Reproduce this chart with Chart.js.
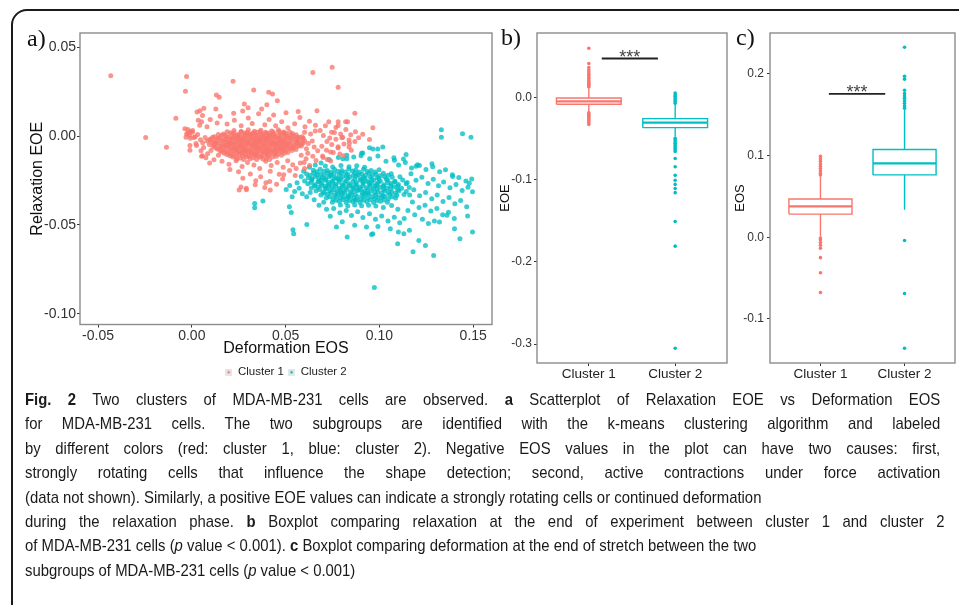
<!DOCTYPE html>
<html>
<head>
<meta charset="utf-8">
<script src="https://cdn.jsdelivr.net/npm/chart.js@4.4.1/dist/chart.umd.min.js"></script>
<style>
  body { margin:0; background:#fff; width:959px; height:605px; overflow:hidden; position:relative; font-family:"Liberation Sans", Arial, sans-serif; }
  .frame { position:absolute; left:11px; top:9px; width:1000px; height:700px; border:2px solid #1a1a1a; border-radius:16px; }
  canvas { position:absolute; top:0; }
  .lab { position:absolute; font-family:"Liberation Serif", "Times New Roman", serif; font-size:24px; line-height:28px; color:#111; }
  .cap { position:absolute; left:25px; top:388px; font-family:"Liberation Sans", Arial, sans-serif; font-size:17px; line-height:24.4px; color:#1a1a1a; transform:scaleX(0.875); transform-origin:0 0; }
  .cap div { white-space:nowrap; }
  .cap .j { width:1046px; text-align:justify; text-align-last:justify; }
</style>
</head>
<body>
<div class="frame"></div>
<canvas id="chartA" width="500" height="390" style="left:0"></canvas>
<canvas id="chartB" width="235" height="392" style="left:497px"></canvas>
<canvas id="chartC" width="227" height="392" style="left:732px"></canvas>
<div class="lab" style="left:27px;top:24px">a)</div>
<div class="lab" style="left:501px;top:23px">b)</div>
<div class="lab" style="left:736px;top:23px">c)</div>
<div class="cap">
<div class="j"><b>Fig. 2</b> Two clusters of MDA-MB-231 cells are observed. <b>a</b> Scatterplot of Relaxation EOE vs Deformation EOS</div>
<div class="j">for MDA-MB-231 cells. The two subgroups are identified with the k-means clustering algorithm and labeled</div>
<div class="j">by different colors (red: cluster 1, blue: cluster 2). Negative EOS values in the plot can have two causes: first,</div>
<div class="j">strongly rotating cells that influence the shape detection; second, active contractions under force activation</div>
<div>(data not shown). Similarly, a positive EOE values can indicate a strongly rotating cells or continued deformation</div>
<div class="j" style="width:1051px">during the relaxation phase. <b>b</b> Boxplot comparing relaxation at the end of experiment between cluster 1 and cluster 2</div>
<div>of MDA-MB-231 cells (<i>p</i> value &lt; 0.001). <b>c</b> Boxplot comparing deformation at the end of stretch between the two</div>
<div>subgroups of MDA-MB-231 cells (<i>p</i> value &lt; 0.001)</div>
</div>
<script>
// ---- data ----
var groups = ["Cluster 1", "Cluster 2"];
var colors = ["#F8766D", "#00BFC4"];

// panel a : [Deformation EOS, Relaxation EOE]
var cluster1 = [
 [.0225,.0031],[.0262,.0024],[.0301,.0036],[.0334,.0027],[.0368,.0033],[.0392,.0022],[.0425,.0029],[.0461,.0035],[.0488,.0023],
 [.0168,.0012],[.0205,.0019],[.0243,.0008],[.0281,.0017],[.0312,.0011],[.0349,.0021],[.0377,.0009],[.0409,.0016],[.0441,.0013],[.0473,.0018],[.0502,.0007],[.0536,.0014],
 [.0121,-.0004],[.0158,.0003],[.0197,-.0007],[.0228,.0001],[.0259,-.0003],[.0291,.0005],[.0322,-.0006],[.0351,.0002],[.0383,-.0002],[.0415,.0004],[.0447,-.0005],[.0478,.0001],[.0509,-.0003],[.0541,.0003],[.0572,-.0006],
 [.0101,-.0017],[.0139,-.0012],[.0176,-.0019],[.0213,-.0014],[.0245,-.0011],[.0274,-.0018],[.0306,-.0013],[.0338,-.0016],[.0367,-.0021],[.0396,-.0012],[.0428,-.0017],[.0459,-.0014],[.0492,-.0019],[.0523,-.0011],[.0558,-.0016],[.0591,-.0013],
 [.0082,-.0028],[.0119,-.0033],[.0155,-.0027],[.0189,-.0031],[.0221,-.0035],[.0252,-.0029],[.0284,-.0032],[.0316,-.0026],[.0345,-.0034],[.0374,-.0028],[.0405,-.0031],[.0436,-.0036],[.0468,-.0027],[.0499,-.0032],[.0531,-.0029],[.0566,-.0034],[.0602,-.0027],
 [.0093,-.0047],[.0131,-.0042],[.0166,-.0048],[.0199,-.0044],[.0232,-.0041],[.0263,-.0049],[.0295,-.0043],[.0327,-.0046],[.0356,-.0041],[.0388,-.0048],[.0419,-.0044],[.0451,-.0042],[.0482,-.0047],[.0514,-.0043],[.0547,-.0049],[.0585,-.0044],
 [.0112,-.0058],[.0148,-.0063],[.0183,-.0057],[.0216,-.0062],[.0247,-.0059],[.0279,-.0064],[.0309,-.0056],[.0341,-.0061],[.0372,-.0058],[.0401,-.0063],[.0432,-.0057],[.0463,-.0062],[.0496,-.0059],[.0529,-.0064],[.0563,-.0058],
 [.0136,-.0073],[.0171,-.0078],[.0206,-.0072],[.0238,-.0077],[.0269,-.0074],[.0301,-.0079],[.0333,-.0072],[.0364,-.0076],[.0395,-.0073],[.0426,-.0078],[.0457,-.0074],[.0489,-.0077],[.0521,-.0071],[.0555,-.0076],
 [.0158,-.0088],[.0194,-.0093],[.0228,-.0087],[.0259,-.0092],[.0291,-.0089],[.0323,-.0094],[.0354,-.0087],[.0386,-.0091],[.0418,-.0088],[.0449,-.0093],[.0481,-.0089],[.0512,-.0092],
 [.0187,-.0103],[.0221,-.0108],[.0253,-.0102],[.0286,-.0107],[.0318,-.0104],[.0349,-.0109],[.0381,-.0103],[.0412,-.0106],[.0445,-.0102],[.0478,-.0108],
 [.0219,-.0118],[.0258,-.0123],[.0293,-.0117],[.0327,-.0122],[.0361,-.0119],[.0396,-.0124],[.0431,-.0118],
 [.0188,.0024],[.0224,.0019],[.0263,.0026],[.0296,.0021],[.0331,.0018],[.0364,.0025],[.0398,.0017],[.0433,.0023],[.0465,.0026],[.0497,.0019],[.0521,.0024],
 [.0141,.0009],[.0178,.0004],[.0214,.0011],[.0247,.0006],[.0276,.0003],[.0307,.0009],[.0339,.0005],[.0368,.0011],[.0401,.0004],[.0432,.0008],[.0462,.0003],[.0493,.0010],[.0526,.0005],[.0556,.0008],
 [.0111,-.0006],[.0148,-.0011],[.0186,-.0004],[.0218,-.0009],[.0251,-.0006],[.0283,-.0010],[.0314,-.0005],[.0344,-.0009],[.0376,-.0007],[.0407,-.0011],[.0438,-.0006],[.0469,-.0009],[.0501,-.0005],[.0532,-.0010],[.0563,-.0007],[.0588,-.0004],
 [.0094,-.0021],[.0129,-.0025],[.0166,-.0020],[.0201,-.0024],[.0234,-.0021],[.0262,-.0026],[.0296,-.0022],[.0328,-.0025],[.0357,-.0020],[.0389,-.0024],[.0417,-.0021],[.0448,-.0026],[.0481,-.0022],[.0512,-.0024],[.0546,-.0021],[.0579,-.0025],
 [.0106,-.0036],[.0143,-.0040],[.0177,-.0035],[.0211,-.0039],[.0241,-.0036],[.0273,-.0041],[.0306,-.0037],[.0336,-.0039],[.0366,-.0035],[.0396,-.0040],[.0428,-.0037],[.0459,-.0039],[.0491,-.0036],[.0522,-.0040],[.0557,-.0037],[.0594,-.0039],
 [.0121,-.0051],[.0157,-.0055],[.0192,-.0052],[.0224,-.0054],[.0256,-.0051],[.0287,-.0056],[.0318,-.0052],[.0349,-.0054],[.0381,-.0050],[.0411,-.0055],[.0441,-.0052],[.0473,-.0055],[.0504,-.0051],[.0538,-.0054],[.0572,-.0052],
 [.0126,-.0066],[.0162,-.0070],[.0196,-.0067],[.0228,-.0069],[.0259,-.0066],[.0291,-.0071],[.0321,-.0067],[.0353,-.0069],[.0384,-.0066],[.0414,-.0070],[.0445,-.0067],[.0477,-.0070],[.0509,-.0066],[.0542,-.0069],
 [.0149,-.0081],[.0183,-.0085],[.0216,-.0082],[.0249,-.0084],[.0281,-.0081],[.0313,-.0086],[.0344,-.0082],[.0376,-.0084],[.0407,-.0081],[.0438,-.0085],[.0469,-.0082],[.0501,-.0084],[.0533,-.0081],
 [.0172,-.0096],[.0207,-.0100],[.0239,-.0097],[.0271,-.0099],[.0303,-.0096],[.0334,-.0100],[.0366,-.0097],[.0398,-.0099],[.0429,-.0096],[.0461,-.0100],[.0494,-.0097],
 [.0203,-.0111],[.0237,-.0115],[.0271,-.0112],[.0305,-.0114],[.0339,-.0111],[.0372,-.0115],[.0405,-.0112],[.0451,-.0114],
 [.0241,-.0129],[.0276,-.0132],[.0311,-.0128],[.0345,-.0131],[.0379,-.0129],[.0414,-.0132],
 [.0232,-.0008],[.0267,-.0022],[.0298,-.0038],[.0331,-.0052],[.0362,-.0067],[.0393,-.0082],[.0361,-.0009],[.0397,-.0024],[.0425,-.0039],[.0452,-.0053],[.0483,-.0068],[.0265,-.0054],[.0236,-.0069],
 [.0206,-.0041],[.0178,-.0055],[.0312,-.0083],[.0274,-.0085],[.0341,-.0098],[.0402,-.0097],[.0446,-.0079],[.0475,-.0035],[.0506,-.0051],[.0288,.0009],[.0326,.0018],[.0415,-.0001],[.0349,-.0036],
 [.0042,.0061],[.0081,.0052],[.0135,.0074],[.0188,.0068],[.0227,.0089],[.0263,.0058],[.0301,.0102],[.0322,.0071],[.0356,.0125],[.0389,.0064],[.0412,.0093],[.0447,.0058],[.0479,.0081],[.0512,.0047],
 [.0548,.0069],[.0576,.0104],[.0603,.0052],[.0627,.0083],[.0659,.0061],[.0684,.0032],[.0712,.0058],[.0745,.0021],[.0768,.0049],[.0793,.0012],[.0821,.0037],[.0847,.0008],[.0872,.0024],
 [.0223,.0128],[.0271,.0141],[.0372,.0152],[.0436,.0118],[.0502,.0131],[.0567,.0138],[.0151,.0112],[.0098,.0093],[.0601,.0021],[.0633,.0012],[.0658,.0028],[.0701,.0003],[.0735,-.0011],
 [.0768,-.0018],[.0804,-.0007],[.0838,-.0022],[.0869,-.0031],[.0889,-.0009],
 [-.0021,.0018],[.0003,.0021],[-.0008,-.0012],[.0018,-.0004],[.0031,.0009],[.0046,-.0021],[.0022,-.0041],[.0058,-.0037],[.0071,-.0008],[.0063,-.0064],[.0049,-.0083],[.0084,-.0099],
 [.0102,-.0081],[.0075,-.0122],[.0118,-.0133],[.0142,-.0108],[.0095,-.0152],
 [-.0037,.0042],[-.0021,.0037],[-.0009,.0025],[.0004,.0031],[-.0028,.0012],[-.0012,.0004],[.0011,-.0008],[-.0031,-.0006],[-.001,-.0053],[-.001,-.008],[.0025,-.0053],[.0057,-.011],
 [.0161,-.0142],[.0198,-.0158],[.0236,-.0139],[.0268,-.0171],[.0297,-.0148],[.0331,-.0162],[.0362,-.0183],[.0394,-.0141],[.0423,-.0165],[.0455,-.0148],[.0487,-.0176],[.0511,-.0139],
 [.0538,-.0161],[.0249,-.0201],[.0312,-.0213],[.0367,-.0229],[.0418,-.0198],[.0466,-.0215],[.0521,-.0194],[.0556,-.0182],[.0578,-.0151],[.0609,-.0128],[.0583,-.0108],[.0618,-.0097],
 [.0645,-.0114],[.0671,-.0082],[.0652,-.0061],[.0693,-.0057],[.0718,-.0079],[.0746,-.0048],[.0779,-.0067],[.0811,-.0045],[.0838,-.0062],[.0621,-.0042],[.0598,-.0148],[.0628,-.0166],
 [.0341,-.0251],[.0395,-.0262],[.0484,-.0241],[.0272,-.0237],[.0203,-.0188],[.0551,-.0222],[.0601,-.0183],[.0662,-.0138],[.0697,-.0112],[.0722,-.0131],[.0754,-.0093],[.0789,-.0101],
 [.0563,-.0035],[.0594,-.0012],[.0611,-.0071],[.0584,-.0056],[.0642,-.0027],
 [.0262,-.0286],[.0291,-.0302],[.0338,-.0274],[.0389,-.0289],[.0452,-.0271],[.0418,-.0303],
 [.073,.008],[.078,.006],[.082,.008],[.076,.002],[.080,-.001],[.084,-.004],[.078,-.006],[.074,-.009],[.081,-.011],[.085,-.008],[.072,-.003],[.070,-.012],[.074,-.014],
 [-.0432,.0339],[-.0028,.0335],[-.0034,.0252],[.022,.0309],[.033,.026],[.041,.0246],[.043,.0237],[.0456,.0199],[.0645,.0358],[.0748,.0388],[.078,.0275],[.0869,.0129],
 [.0131,.0231],[.0146,.0218],[.0064,.0157],[-.0085,.0100],[-.0246,-.0008],[-.0135,-.0063],[.0043,.0142],[.0057,.0116],[.028,.018],[.030,.016],[.040,.0176],[.0667,.0142],
 [.078,.0081],[.083,.0081],[.0965,.0047],[.0911,.001],[.0947,-.0019],[.0052,-.0114],[.0252,-.0303],[.029,-.0294],[.0415,-.0256],[.049,-.0218],
 [.0028,.0136],[.0128,.0152],[.0034,.0089],[.0052,.008]
];
var cluster2 = [
 [.0712,-.0168],[.0751,-.0174],[.0795,-.0165],[.0838,-.0172],[.0879,-.0167],[.0921,-.0175],
 [.0648,-.0192],[.0684,-.0186],[.0722,-.0194],[.0761,-.0188],[.0799,-.0193],[.0837,-.0185],[.0874,-.0191],[.0915,-.0187],[.0956,-.0194],[.0998,-.0189],
 [.0612,-.0213],[.0649,-.0207],[.0687,-.0214],[.0723,-.0208],[.0758,-.0212],[.0796,-.0206],[.0832,-.0215],[.0869,-.0209],[.0907,-.0213],[.0944,-.0207],[.0982,-.0214],[.1021,-.0209],[.1063,-.0212],
 [.0583,-.0228],[.0621,-.0234],[.0658,-.0227],[.0695,-.0233],[.0731,-.0229],[.0768,-.0235],[.0804,-.0228],[.0841,-.0232],[.0878,-.0226],[.0914,-.0233],[.0951,-.0229],[.0989,-.0234],[.1027,-.0227],[.1068,-.0232],[.1109,-.0229],
 [.0601,-.0252],[.0639,-.0247],[.0676,-.0254],[.0712,-.0248],[.0749,-.0253],[.0785,-.0246],[.0822,-.0251],[.0859,-.0255],[.0896,-.0248],[.0932,-.0253],[.0969,-.0247],[.1005,-.0252],[.1044,-.0249],[.1083,-.0254],[.1124,-.0247],
 [.0618,-.0268],[.0655,-.0274],[.0692,-.0267],[.0729,-.0273],[.0766,-.0269],[.0803,-.0275],[.0839,-.0268],[.0876,-.0272],[.0913,-.0266],[.0949,-.0273],[.0986,-.0269],[.1023,-.0274],[.1062,-.0267],[.1101,-.0272],[.1142,-.0268],
 [.0637,-.0292],[.0674,-.0287],[.0711,-.0293],[.0748,-.0288],[.0784,-.0294],[.0821,-.0289],[.0858,-.0293],[.0894,-.0286],[.0931,-.0291],[.0968,-.0295],[.1004,-.0288],[.1041,-.0292],[.1079,-.0287],[.1118,-.0293],[.1159,-.0289],
 [.0662,-.0308],[.0699,-.0314],[.0736,-.0307],[.0772,-.0313],[.0809,-.0309],[.0846,-.0315],[.0882,-.0308],[.0919,-.0312],[.0956,-.0306],[.0993,-.0313],[.1029,-.0309],[.1066,-.0314],[.1104,-.0307],[.1143,-.0312],
 [.0688,-.0332],[.0724,-.0327],[.0761,-.0333],[.0798,-.0328],[.0835,-.0334],[.0871,-.0329],[.0908,-.0333],[.0945,-.0327],[.0981,-.0332],[.1018,-.0335],[.1055,-.0328],[.1093,-.0333],[.1131,-.0329],
 [.0717,-.0348],[.0753,-.0354],[.0791,-.0347],[.0827,-.0353],[.0864,-.0349],[.0901,-.0355],[.0937,-.0348],[.0974,-.0352],[.1011,-.0346],[.1048,-.0353],[.1086,-.0349],
 [.0749,-.0372],[.0786,-.0367],[.0823,-.0373],[.0859,-.0368],[.0896,-.0374],[.0933,-.0369],[.0969,-.0373],[.1006,-.0367],[.1043,-.0372],
 [.0792,-.0388],[.0831,-.0393],[.0868,-.0387],[.0905,-.0392],[.0942,-.0389],[.0981,-.0394],
 [.0667,-.0201],[.0704,-.0198],[.0741,-.0203],[.0779,-.0199],[.0818,-.0202],[.0856,-.0197],[.0893,-.0203],[.0935,-.0199],[.0977,-.0202],
 [.0631,-.0221],[.0668,-.0218],[.0706,-.0222],[.0741,-.0221],[.0786,-.0219],[.0823,-.0223],[.0888,-.0218],[.0926,-.0222],[.0963,-.0219],[.1004,-.0223],[.1046,-.0220],
 [.0641,-.0241],[.0677,-.0238],[.0713,-.0242],[.0758,-.0239],[.0795,-.0243],[.0831,-.0238],[.0868,-.0242],[.0922,-.0239],[.0958,-.0243],[.0997,-.0238],[.1036,-.0241],
 [.0636,-.0261],[.0673,-.0258],[.0749,-.0262],[.0785,-.0259],[.0876,-.0262],[.0913,-.0258],[.0958,-.0261],[.0995,-.0259],[.1043,-.0262],[.1081,-.0258],
 [.0655,-.0281],[.0692,-.0278],[.0731,-.0282],[.0767,-.0279],[.0803,-.0283],[.0839,-.0278],[.0876,-.0282],[.0913,-.0279],[.0949,-.0281],[.0986,-.0278],[.1022,-.0282],[.1061,-.0279],[.1098,-.0281],
 [.0681,-.0301],[.0718,-.0298],[.0791,-.0302],[.0828,-.0299],[.0865,-.0301],[.0901,-.0298],[.0938,-.0302],[.0986,-.0299],[.1022,-.0301],[.1059,-.0298],[.1097,-.0302],
 [.0706,-.0321],[.0743,-.0318],[.0779,-.0322],[.0816,-.0319],[.0853,-.0321],[.0908,-.0318],[.0937,-.0322],[.0974,-.0319],[.1011,-.0321],[.1048,-.0318],[.1086,-.0322],
 [.0735,-.0341],[.0772,-.0338],[.0809,-.0342],[.0846,-.0339],[.0883,-.0341],[.0919,-.0338],[.0992,-.0342],[.1029,-.0339],[.1067,-.0341],
 [.0768,-.0361],[.0805,-.0358],[.0841,-.0362],[.0878,-.0359],[.0915,-.0361],[.0951,-.0358],[.0988,-.0362],[.1025,-.0359],
 [.0741,-.0221],[.0779,-.0241],[.0815,-.0262],[.0852,-.0281],[.0889,-.0302],[.0926,-.0321],[.0963,-.0341],[.0712,-.0281],[.0758,-.0301],[.0797,-.0318],[.0861,-.0222],[.0902,-.0242],
 [.0943,-.0261],[.0975,-.0281],[.0833,-.0342],[.0871,-.0361],[.0689,-.0248],[.0728,-.0259],
 [.0732,-.0132],[.0781,-.0121],[.0826,-.0108],[.0863,-.0118],[.0905,-.0096],[.0948,-.0128],[.0992,-.0112],[.1035,-.0141],[.1077,-.0122],[.1102,-.0163],[.1138,-.0148],[.1171,-.0179],
 [.1203,-.0161],[.1248,-.0188],[.1284,-.0172],[.1321,-.0201],[.1352,-.0189],[.1389,-.0218],[.1423,-.0233],[.1461,-.0252],[.1492,-.0241],
 [.1168,-.0212],[.1195,-.0248],[.1226,-.0231],[.1259,-.0267],[.1287,-.0243],[.1315,-.0279],[.1342,-.0258],[.1376,-.0291],[.1408,-.0273],[.1441,-.0306],[.1472,-.0288],[.1183,-.0302],
 [.1214,-.0336],[.1246,-.0318],[.1279,-.0352],[.1308,-.0331],[.1339,-.0368],[.1371,-.0345],[.1402,-.0381],[.1433,-.0362],[.1465,-.0398],[.1176,-.0371],[.1211,-.0402],[.1243,-.0389],
 [.1274,-.0421],[.1306,-.0408],[.1337,-.0442],[.1368,-.0429],[.1399,-.0463],[.1188,-.0443],[.1229,-.0468],[.1261,-.0492],[.1293,-.0478],[.1152,-.0418],[.1161,-.0332],[.1148,-.0261],
 [.0652,-.0358],[.0678,-.0389],[.0703,-.0372],[.0718,-.0412],[.0756,-.0408],[.0789,-.0431],[.0823,-.0418],[.0851,-.0447],[.0884,-.0426],[.0912,-.0458],[.0947,-.0437],[.0979,-.0468],
 [.1012,-.0449],[.1046,-.0478],[.1079,-.0456],[.1108,-.0487],[.1132,-.0463],[.0738,-.0451],[.0802,-.0482],[.0868,-.0501],[.0931,-.0512],[.0992,-.0508],[.1058,-.0521],[.1101,-.0539],
 [.0958,-.0553],[.0771,-.0512],[.1021,-.0402],[.1065,-.0391],[.1098,-.0412],
 [.0561,-.0262],[.0572,-.0293],[.0548,-.0312],[.0589,-.0325],[.0612,-.0341],[.0631,-.0318],[.0596,-.0198],[.0627,-.0176],[.0658,-.0163],[.0689,-.0151],[.0522,-.0278],[.0503,-.0301],
 [.0535,-.0341],[.052,-.0398],[.053,-.043],
 [.0947,-.0066],[.0965,-.0072],[.0911,-.0095],[.0902,-.011],[.0805,-.0127],[.0826,-.0127],[.108,-.0136],[.1128,-.0129],[.1195,-.017],[.1213,-.0166],
 [.133,.0036],[.133,-.0006],[.1443,.0013],[.1488,-.0006],[.0335,-.0379],[.0335,-.0403],[.0379,-.0365],[.0539,-.0527],[.0543,-.0549],[.0613,-.0498],[.0828,-.0568],[.0973,-.0852],
 [.1097,-.0606],[.1179,-.065],[.1245,-.0616],[.1289,-.0672],[.1429,-.0578],[.1496,-.054],[.147,-.0449],[.140,-.0521],[.1496,-.0313],[.1479,-.0265],[.139,-.0227],[.128,-.0155],
 [.1142,-.0104],[.1018,-.0061],[.0991,-.0072],[.0965,-.055],[.121,-.0587],[.113,-.055],[.116,-.053],[.132,-.0483],[.136,-.0445]
];
var aXTicks = [-0.05, 0, 0.05, 0.10, 0.15];
var aYTicks = [-0.10, -0.05, 0, 0.05];

// panel b : EOE boxplot (Cluster 1, Cluster 2)
var eoeLow = [-0.018, -0.048];
var eoeQ1 = [-0.0085, -0.037];
var eoeMed = [-0.005, -0.031];
var eoeQ3 = [-0.001, -0.026];
var eoeHigh = [0.0105, -0.009];
var eoeOut = [
 [0.0125,0.014,0.0155,0.017,0.0185,0.02,0.022,0.024,0.026,0.028,0.0305,0.033,0.036,0.041,0.0595,-0.019,-0.0205,-0.022,-0.0235,-0.025,-0.027,-0.029,-0.031,-0.033],
 [0.005,0.003,0.001,-0.001,-0.003,-0.005,-0.0075,-0.05,-0.052,-0.054,-0.056,-0.058,-0.06,-0.062,-0.064,-0.066,-0.0745,-0.0846,-0.095,-0.101,-0.106,-0.111,-0.116,-0.151,-0.181,-0.305]
];
var eoeSig = [0.15, 0.8, 0.047];
var bYTicks = [-0.3, -0.2, -0.1, 0];

// panel c : EOS boxplot
var eosLow = [0.001, 0.0336];
var eosQ1 = [0.0283, 0.0763];
var eosMed = [0.0377, 0.0905];
var eosQ3 = [0.0467, 0.1074];
var eosHigh = [0.0746, 0.1557];
var eosOut = [
 [0.0762,0.078,0.081,0.084,0.087,0.09,0.093,0.096,0.099,-0.001,-0.003,-0.0066,-0.0098,-0.0135,-0.025,-0.0435,-0.0677],
 [0.158,0.161,0.164,0.167,0.17,0.173,0.176,0.18,0.1935,0.197,0.2325,-0.004,-0.069,-0.136]
];
var eosSig = [0.1, 0.77, 0.1755];
var cYTicks = [-0.1, 0, 0.1, 0.2];

// ---- helpers ----
var tickFont = { family: "Liberation Sans, Arial", size: 14 };
var alpha = ["rgba(248,118,109,0.78)", "rgba(0,191,196,0.78)"];

var panelBox = {
	id: "panelBox",
	afterDatasetsDraw: function(c){
		var a = c.chartArea, g = c.ctx;
		g.save(); g.strokeStyle = "#8c8c8c"; g.lineWidth = 1.4;
		g.strokeRect(a.left, a.top, a.right - a.left, a.bottom - a.top);
		g.restore();
	}
};

function sigPlugin(sig){
	return {
		id: "sig",
		afterDatasetsDraw: function(c){
			var g = c.ctx, xs = c.scales.x, ys = c.scales.y;
			var x0 = xs.getPixelForValue(sig[0]), x1 = xs.getPixelForValue(sig[1]), y = ys.getPixelForValue(sig[2]);
			g.save();
			g.strokeStyle = "#222"; g.lineWidth = 1.8;
			g.beginPath(); g.moveTo(x0, y); g.lineTo(x1, y); g.stroke();
			g.fillStyle = "#444"; g.font = "18px Liberation Sans, Arial"; g.textAlign = "center"; g.textBaseline = "alphabetic";
			g.fillText("***", (x0 + x1) / 2, y + 4);
			g.restore();
		}
	};
}

function fixedTicks(list){
	return function(s){ s.ticks = list.map(function(v){ return { value: v }; }); };
}

function keyImage(col){
	var c = document.createElement("canvas"); c.width = 7; c.height = 7;
	var g = c.getContext("2d");
	g.fillStyle = "#e6e6e6"; g.fillRect(0, 0, 7, 7);
	g.fillStyle = col; g.beginPath(); g.arc(3.5, 3.5, 1.3, 0, 7); g.fill();
	return c;
}

function boxSets(low, q1, med, q3, high, outs){
	var w = 0.375, sets = [];
	groups.forEach(function(name, i){
		var line = { showLine: true, pointRadius: 0, borderColor: colors[i], borderWidth: 1.4, fill: false };
		sets.push(Object.assign({ data: [{x:i, y:q3[i]}, {x:i, y:high[i]}] }, line));
		sets.push(Object.assign({ data: [{x:i, y:low[i]}, {x:i, y:q1[i]}] }, line));
		sets.push(Object.assign({ data: [{x:i-w, y:q1[i]}, {x:i+w, y:q1[i]}, {x:i+w, y:q3[i]}, {x:i-w, y:q3[i]}, {x:i-w, y:q1[i]}] }, line));
		sets.push(Object.assign({}, line, { borderWidth: 2.2, data: [{x:i-w, y:med[i]}, {x:i+w, y:med[i]}] }));
		sets.push({ data: outs[i].map(function(v){ return { x: i, y: v }; }), pointRadius: 1.8, pointBorderWidth: 0, backgroundColor: colors[i], borderColor: colors[i] });
	});
	return sets;
}

function boxChart(id, sets, yMin, yMax, yTicks, yTitle, padRight, yWidth, tickPad, sig){
	new Chart(document.getElementById(id), {
		type: "scatter",
		data: { datasets: sets },
		options: {
			responsive: false, animation: false,
			layout: { padding: { top: 33, right: padRight, left: 0, bottom: 0 } },
			plugins: { legend: { display: false }, tooltip: { enabled: false } },
			scales: {
				x: {
					min: -0.6, max: 1.6,
					afterBuildTicks: fixedTicks([0, 1]),
					afterFit: function(s){ s.height = 29; },
					ticks: { callback: function(v){ return groups[v]; }, font: { family: "Liberation Sans, Arial", size: 13.5 }, color: "#222", padding: 0, maxRotation: 0 },
					grid: { drawOnChartArea: false, tickLength: 3, color: "#333" },
					border: { display: false }
				},
				y: {
					min: yMin, max: yMax,
					afterBuildTicks: fixedTicks(yTicks),
					afterFit: function(s){ s.width = yWidth; },
					ticks: { callback: function(v){ return v.toFixed(1); }, font: { family: "Liberation Sans, Arial", size: 12 }, color: "#333", padding: tickPad },
					grid: { drawOnChartArea: false, tickLength: 3, color: "#333" },
					border: { display: false },
					title: { display: true, text: yTitle, font: { family: "Liberation Sans, Arial", size: 13 }, color: "#111", padding: { top: 1, bottom: 0 } }
				}
			}
		},
		plugins: [panelBox, sigPlugin(sig)]
	});
}

// ---- panel a ----
new Chart(document.getElementById("chartA"), {
	type: "scatter",
	data: {
		datasets: [cluster1, cluster2].map(function(pts, i){
			return {
				label: groups[i],
				data: pts.map(function(p){ return { x: p[0], y: p[1] }; }),
				pointRadius: 2.5, pointBorderWidth: 0,
				backgroundColor: alpha[i], borderColor: alpha[i]
			};
		})
	},
	options: {
		responsive: false, animation: false,
		layout: { padding: { top: 33, right: 8, left: 24, bottom: 2 } },
		plugins: {
			tooltip: { enabled: false },
			legend: {
				position: "bottom", fullSize: false,
				labels: {
					usePointStyle: true, boxWidth: 7, boxHeight: 7, padding: 4,
					font: { family: "Liberation Sans, Arial", size: 11.5 }, color: "#222",
					generateLabels: function(){
						return groups.map(function(t, i){
							return { text: t, pointStyle: keyImage(colors[i]), fillStyle: "#e6e6e6", strokeStyle: "rgba(0,0,0,0)", lineWidth: 0, hidden: false, datasetIndex: i, fontColor: "#222" };
						});
					}
				}
			}
		},
		scales: {
			x: {
				min: -0.0596, max: 0.160,
				afterBuildTicks: fixedTicks(aXTicks),
				afterFit: function(s){ s.height = 38; },
				ticks: { callback: function(v){ return v.toFixed(2); }, font: tickFont, color: "#333", padding: 0, maxRotation: 0 },
				grid: { drawOnChartArea: false, tickLength: 3, color: "#333" },
				border: { display: false },
				title: { display: true, text: "Deformation EOS", font: { family: "Liberation Sans, Arial", size: 16 }, color: "#111", padding: { top: 0, bottom: 4 } }
			},
			y: {
				min: -0.106, max: 0.058,
				afterBuildTicks: fixedTicks(aYTicks),
				afterFit: function(s){ s.width = 56; },
				ticks: { callback: function(v){ return v.toFixed(2); }, font: tickFont, color: "#333", padding: 1 },
				grid: { drawOnChartArea: false, tickLength: 3, color: "#333" },
				border: { display: false },
				title: { display: true, text: "Relaxation EOE", font: { family: "Liberation Sans, Arial", size: 16 }, color: "#111", padding: { top: 4, bottom: 0 } }
			}
		}
	},
	plugins: [panelBox]
});

// ---- panels b and c ----
boxChart("chartB", boxSets(eoeLow, eoeQ1, eoeMed, eoeQ3, eoeHigh, eoeOut), -0.323, 0.078, bYTicks, "EOE", 5, 40, 2, eoeSig);
boxChart("chartC", boxSets(eosLow, eosQ1, eosMed, eosQ3, eosHigh, eosOut), -0.154, 0.250, cYTicks, "EOS", 1, 38, 3, eosSig);
</script>
</body>
</html>
